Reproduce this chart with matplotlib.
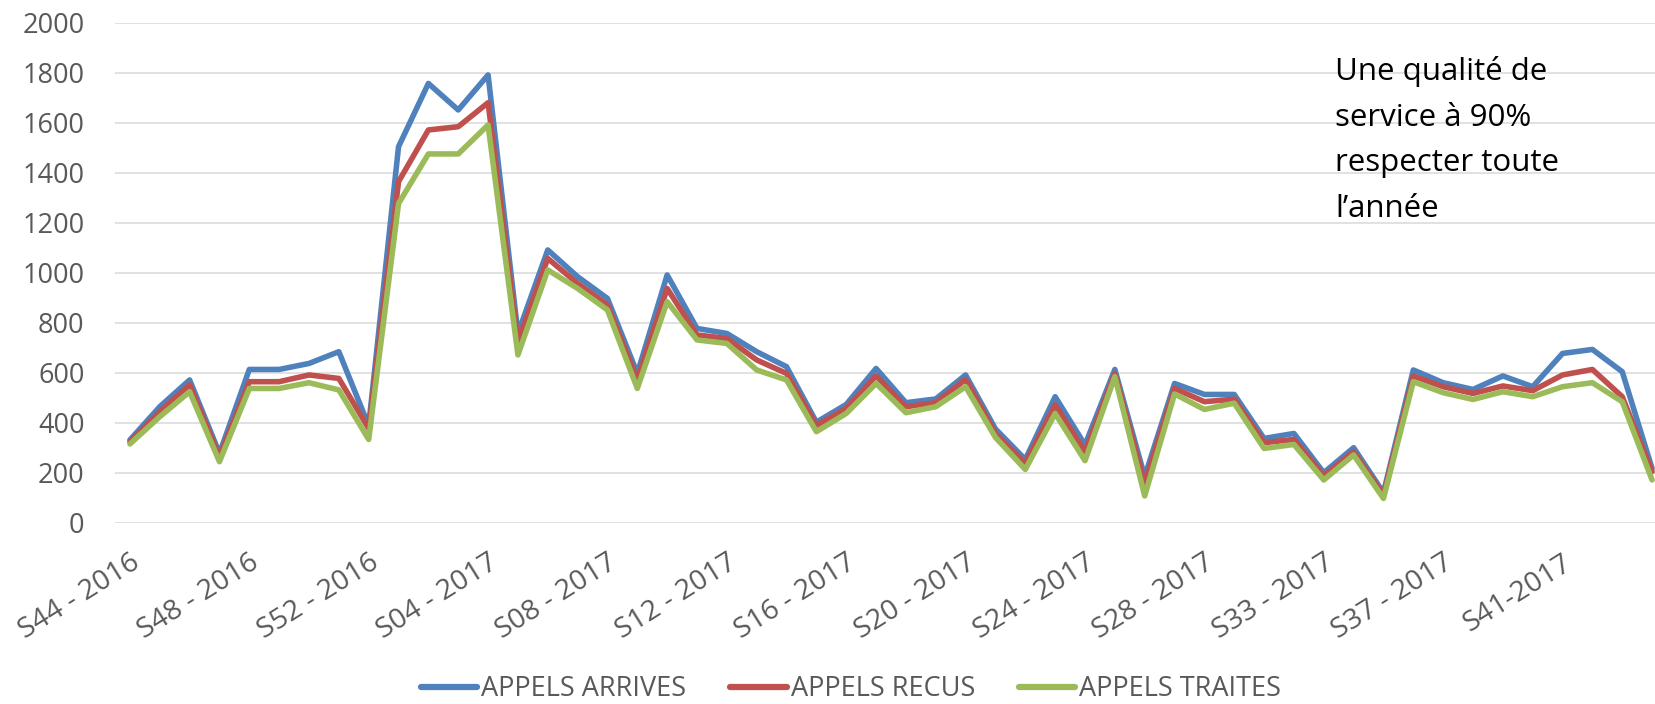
import matplotlib
matplotlib.use("Agg")
import matplotlib.pyplot as plt
from matplotlib.lines import Line2D

plt.rcParams['font.family'] = ['Open Sans', 'DejaVu Sans']

weeks = (["S44 - 2016", "S45 - 2016", "S46 - 2016", "S47 - 2016", "S48 - 2016",
          "S49 - 2016", "S50 - 2016", "S51 - 2016", "S52 - 2016"]
         + ["S%02d - 2017" % w for w in range(1, 29)]
         + ["S29 - 2017", "S30 - 2017", "S32 - 2017", "S33 - 2017",
            "S34 - 2017", "S35 - 2017", "S36 - 2017", "S37 - 2017",
            "S38 - 2017", "S39 - 2017", "S40 - 2017", "S41-2017",
            "S42-2017", "S43-2017", "S44-2017"])

appels_arrives = [331, 464, 571, 277, 613, 613, 637, 684, 388, 1504,
                  1757, 1651, 1791, 757, 1091, 984, 897, 597, 991, 777,
                  757, 684, 624, 402, 473, 617, 480, 495, 591, 375,
                  253, 504, 311, 613, 184, 557, 513, 513, 337, 357,
                  200, 300, 120, 611, 560, 533, 587, 544, 677, 693,
                  604, 217]
appels_recus = [324, 444, 551, 264, 564, 564, 591, 577, 377, 1364,
                1571, 1584, 1680, 724, 1057, 957, 871, 571, 937, 751,
                737, 651, 597, 389, 457, 587, 464, 480, 573, 357,
                237, 471, 284, 597, 157, 537, 484, 494, 320, 333,
                187, 284, 111, 587, 544, 517, 547, 528, 591, 613,
                504, 204]
appels_traites = [315, 424, 524, 244, 537, 537, 560, 531, 333, 1277,
                  1475, 1475, 1591, 671, 1011, 937, 851, 537, 884, 731,
                  717, 611, 571, 364, 437, 557, 440, 464, 544, 341,
                  213, 437, 248, 584, 107, 515, 453, 478, 297, 313,
                  171, 271, 97, 564, 520, 493, 524, 504, 544, 560,
                  484, 171]

series_names = ["APPELS ARRIVES", "APPELS RECUS", "APPELS TRAITES"]
colors = ["#4F81BD", "#C0504D", "#9BBB59"]
y_ticks = list(range(0, 2001, 200))
annotation = "Une qualité de\nservice à 90%\nrespecter toute\nl’année"

W, H = 1655, 704
fig = plt.figure(figsize=(W / 100, H / 100), dpi=100)
left, right, bottom, top = 115, 1667, 522.7, 22.7
ax = fig.add_axes([left / W, 1 - bottom / H, (right - left) / W, (bottom - top) / H])

x = list(range(len(weeks)))
for vals, c in zip([appels_arrives, appels_recus, appels_traites], colors):
    ax.plot(x, vals, color=c, lw=4.0, solid_joinstyle='round',
            solid_capstyle='round', zorder=3, clip_on=False)

ax.set_xlim(-0.5, len(weeks) - 0.5)
ax.set_ylim(0, 2000)
ax.set_yticks(y_ticks)
ax.set_yticklabels([str(v) for v in y_ticks])
ax.yaxis.grid(True, color="#D9D9D9", lw=1.1)
ax.set_axisbelow(True)
for s in ax.spines.values():
    s.set_visible(False)
ax.tick_params(axis='y', length=0, pad=22, labelsize=19.5, labelcolor="#595959")

ax.set_xticks(x[::4])
ax.set_xticklabels(weeks[::4], rotation=32, ha='right', va='top',
                   rotation_mode='anchor', fontsize=20.5, color="#595959")
ax.tick_params(axis='x', length=0, pad=19)

fig.text(1335 / W, 1 - 56 / H, annotation, ha='left', va='top',
         fontsize=22.5, color='black', linespacing=1.68)

handles = [Line2D([], [], color=c, lw=4.5, solid_capstyle='round') for c in colors]
fig.legend(handles, series_names, loc='center', bbox_to_anchor=(851 / W, 1 - 689 / H),
           ncol=3, frameon=False, fontsize=19.5, labelcolor="#595959",
           handlelength=2.1, handletextpad=0.15, columnspacing=1.6,
           borderpad=0.1)

fig.savefig("out.png", dpi=100)
